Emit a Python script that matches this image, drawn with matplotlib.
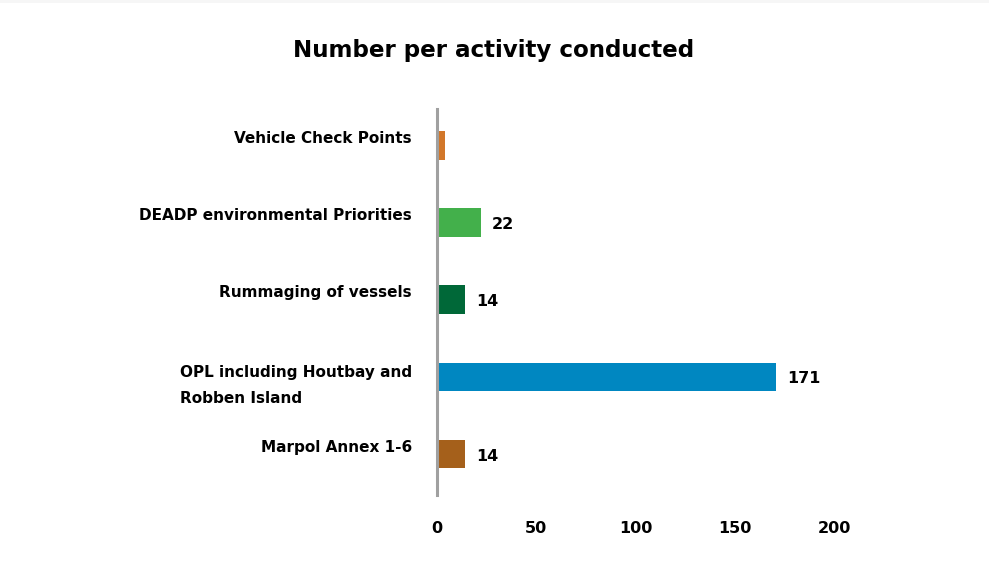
import matplotlib
matplotlib.use("Agg")
import matplotlib.pyplot as plt
from matplotlib.patches import Rectangle

categories = ["Vehicle Check Points", "DEADP environmental Priorities", "Rummaging of vessels",
              "OPL including Houtbay and\nRobben Island", "Marpol Annex 1-6"]
values = [4, 22, 14, 171, 14]
show_label = [False, True, True, True, True]
colors = ["#D2772A", "#43B04B", "#006838", "#0087C1", "#A5601B"]
xticks = [0, 50, 100, 150, 200]
title = "Number per activity conducted"

plt.rcParams['font.family'] = ['DejaVu Sans']

fig = plt.figure(figsize=(9.89, 5.70), dpi=100)
fig.patches.append(Rectangle((0, 1 - 3 / 570), 1, 3 / 570, transform=fig.transFigure,
                             facecolor='#F6F6F6', edgecolor='none', zorder=0))
ax = fig.add_axes([0.4419, 0.1316, 0.8433 - 0.4419, 0.8088 - 0.1316])

y = list(range(len(categories)))
bars = ax.barh(y, values, height=0.37, color=colors)
ax.set_ylim(len(categories) - 0.47, -0.47)
ax.set_xlim(0, 200)
ax.set_xticks(xticks)
ax.set_xticklabels([str(t) for t in xticks], fontsize=11.5, fontweight='bold')
ax.set_yticks(y)
ax.set_yticklabels([])
ax.tick_params(axis='x', length=0, pad=19)
ax.tick_params(axis='y', length=0)

for yi, cat in zip(y, categories):
    dy = -9 if '\n' in cat else 7
    ax.annotate(cat, xy=(0, yi), xycoords='data', xytext=(-25, dy), textcoords='offset pixels',
                ha='right', va='center', multialignment='left',
                fontsize=11, fontweight='bold', linespacing=1.9)

for s in ['top', 'right', 'bottom']:
    ax.spines[s].set_visible(False)
ax.spines['left'].set_color('#A0A0A0')
ax.spines['left'].set_linewidth(2.2)

for b, v, show in zip(bars, values, show_label):
    if show:
        ax.annotate(str(v), xy=(b.get_width(), b.get_y() + b.get_height() / 2),
                    xytext=(11, -2), textcoords='offset pixels',
                    ha='left', va='center', fontsize=11.5, fontweight='bold', color='black')

fig.text(0.4995, 1 - 50 / 570, title, ha='center', va='center', fontsize=16.6, fontweight='bold')

fig.savefig("out.png", dpi=100)
